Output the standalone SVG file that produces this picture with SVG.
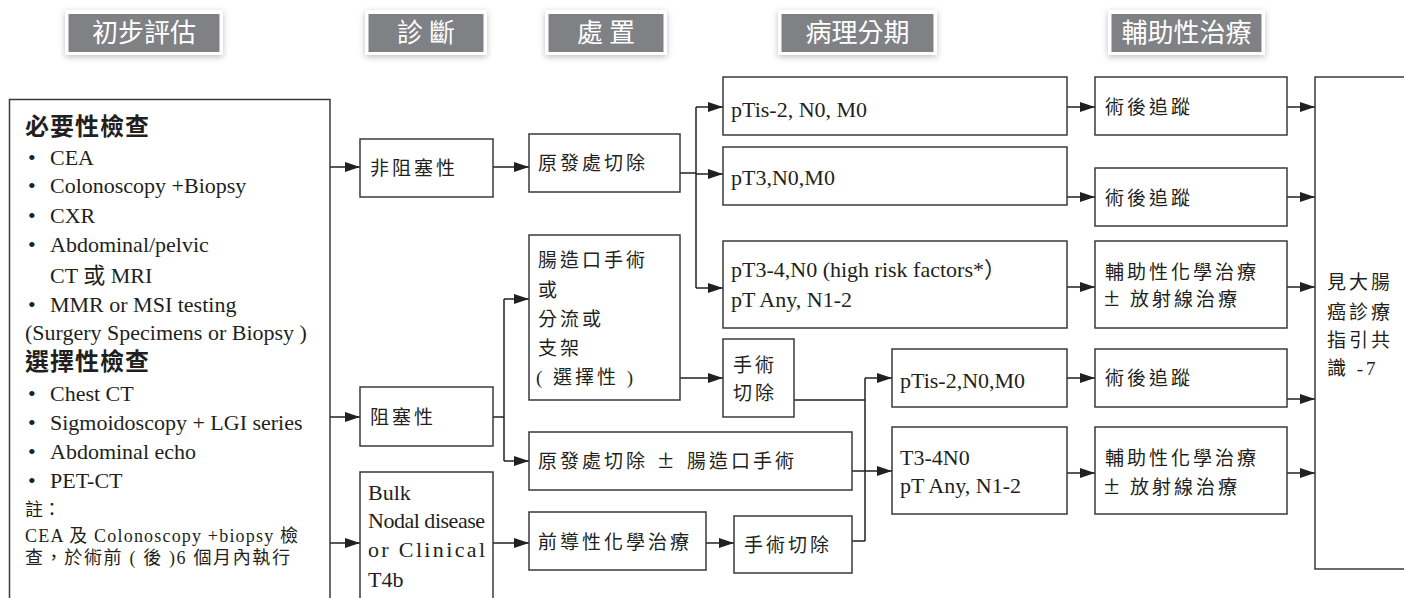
<svg xmlns="http://www.w3.org/2000/svg" width="1404" height="598" viewBox="0 0 1404 598">
<defs>
<filter id="sh" x="-20%" y="-40%" width="140%" height="180%">
<feDropShadow dx="0" dy="2" stdDeviation="3" flood-color="#000" flood-opacity="0.25"/>
</filter>
<marker id="ah" markerUnits="userSpaceOnUse" markerWidth="15" markerHeight="10" refX="15" refY="5" orient="auto">
<path d="M0,0 L15,5 L0,10 z" fill="#231f20"/>
</marker>
</defs>
<style>
.hdo{fill:#fff;filter:url(#sh)}
.hdi{fill:#808184}
.hdt{font-family:"Noto Sans CJK TC","Noto Sans CJK SC",sans-serif;font-size:26px;fill:#fff;text-anchor:middle}
.box{fill:#fff;stroke:#3a3a3a;stroke-width:1.5}
.cj{font-family:"Liberation Serif","Noto Sans CJK TC",serif;font-size:19px;fill:#231f20;letter-spacing:3px}
.pm{font-size:28px;letter-spacing:0}
.en{font-family:"Liberation Serif","Noto Sans CJK TC",serif;font-size:22px;fill:#231f20}
.bt{font-family:"Noto Sans CJK TC","Noto Sans CJK SC",sans-serif;font-size:24px;font-weight:700;fill:#231f20;letter-spacing:1px}
.nt{font-family:"Liberation Serif","Noto Sans CJK TC",serif;font-size:18px;fill:#231f20}
.ln{fill:none;stroke:#231f20;stroke-width:1.5}
.ar{fill:none;stroke:#231f20;stroke-width:1.5;marker-end:url(#ah)}
</style>
<rect width="1404" height="598" fill="#fff"/>

<g id="headers">
<g id="h1"><rect class="hdo" x="65" y="10" width="158" height="45"/><rect class="hdi" x="68.5" y="14" width="151" height="38"/><text class="hdt" x="144" y="42">初步評估</text></g>
<g id="h2"><rect class="hdo" x="365" y="10" width="122" height="45"/><rect class="hdi" x="368.5" y="14" width="115" height="38"/><text class="hdt" x="426" y="42">診 斷</text></g>
<g id="h3"><rect class="hdo" x="545" y="10" width="122" height="45"/><rect class="hdi" x="548.5" y="14" width="115" height="38"/><text class="hdt" x="606" y="42">處 置</text></g>
<g id="h4"><rect class="hdo" x="778" y="10" width="159" height="45"/><rect class="hdi" x="781.5" y="14" width="152" height="38"/><text class="hdt" x="857.5" y="42">病理分期</text></g>
<g id="h5"><rect class="hdo" x="1108" y="10" width="157" height="45"/><rect class="hdi" x="1111.5" y="14" width="150" height="38"/><text class="hdt" x="1186.5" y="42">輔助性治療</text></g>
</g>

<g id="connectors">
<line class="ar" x1="330" y1="167" x2="360" y2="167"/>
<line class="ar" x1="330" y1="417" x2="360" y2="417"/>
<line class="ar" x1="330" y1="543" x2="360" y2="543"/>
<line class="ar" x1="493" y1="167" x2="529" y2="167"/>
<polyline class="ln" points="680,173 696,173"/>
<line class="ln" x1="696" y1="107" x2="696" y2="288"/>
<line class="ar" x1="696" y1="107" x2="723" y2="107"/>
<line class="ar" x1="696" y1="174" x2="723" y2="174"/>
<line class="ar" x1="696" y1="288" x2="723" y2="288"/>
<line class="ar" x1="1067" y1="107" x2="1095" y2="107"/>
<line class="ar" x1="1067" y1="197" x2="1095" y2="197"/>
<line class="ar" x1="1067" y1="287" x2="1095" y2="287"/>
<line class="ar" x1="1287" y1="107" x2="1315" y2="107"/>
<line class="ar" x1="1287" y1="197" x2="1315" y2="197"/>
<line class="ar" x1="1287" y1="287" x2="1315" y2="287"/>
<line class="ar" x1="1287" y1="399" x2="1315" y2="399"/>
<line class="ar" x1="1287" y1="473" x2="1315" y2="473"/>
<polyline class="ln" points="493,417 504,417"/>
<line class="ln" x1="504" y1="299" x2="504" y2="461"/>
<line class="ar" x1="504" y1="299" x2="529" y2="299"/>
<line class="ar" x1="504" y1="461" x2="529" y2="461"/>
<line class="ar" x1="680" y1="378" x2="723" y2="378"/>
<polyline class="ln" points="794,400 865,400"/>
<polyline class="ln" points="852,471 865,471"/>
<polyline class="ln" points="852,541 865,541"/>
<line class="ln" x1="865" y1="378" x2="865" y2="541"/>
<line class="ar" x1="865" y1="378" x2="892" y2="378"/>
<line class="ar" x1="865" y1="471" x2="892" y2="471"/>
<line class="ar" x1="493" y1="543" x2="529" y2="543"/>
<line class="ar" x1="706" y1="543" x2="734" y2="543"/>
<line class="ar" x1="1067" y1="378" x2="1095" y2="378"/>
<line class="ar" x1="1067" y1="473" x2="1095" y2="473"/>
</g>

<g id="initial">
<rect class="box" x="9.5" y="99.5" width="320.5" height="520"/>
<text class="bt" x="25" y="135">必要性檢查</text>
<g class="en">
<text x="28" y="165">•</text><text x="50" y="165">CEA</text>
<text x="28" y="193">•</text><text x="50" y="193">Colonoscopy +Biopsy</text>
<text x="28" y="223">•</text><text x="50" y="223">CXR</text>
<text x="28" y="252">•</text><text x="50" y="252">Abdominal/pelvic</text>
<text x="50" y="283">CT 或 MRI</text>
<text x="28" y="312">•</text><text x="50" y="312">MMR or MSI testing</text>
<text x="25" y="340">(Surgery Specimens or Biopsy )</text>
</g>
<text class="bt" x="25" y="370">選擇性檢查</text>
<g class="en">
<text x="28" y="401">•</text><text x="50" y="401">Chest CT</text>
<text x="28" y="430">•</text><text x="50" y="430">Sigmoidoscopy + LGI series</text>
<text x="28" y="459">•</text><text x="50" y="459">Abdominal echo</text>
<text x="28" y="488">•</text><text x="50" y="488">PET-CT</text>
</g>
<text class="nt" x="25" y="516">註：</text>
<text class="nt" x="25" y="542" textLength="273" lengthAdjust="spacing">CEA 及 Colonoscopy +biopsy 檢</text>
<text class="nt" x="25" y="564" textLength="265" lengthAdjust="spacing">查，於術前 ( 後 )6 個月內執行</text>
</g>

<g id="nonobstructive"><rect class="box" x="360" y="139" width="133" height="58"/><text class="cj" x="370" y="175">非阻塞性</text></g>
<g id="obstructive"><rect class="box" x="360" y="387" width="133" height="59"/><text class="cj" x="370" y="424">阻塞性</text></g>
<g id="bulk"><rect class="box" x="360" y="472" width="133" height="140"/>
<text class="en" x="368" y="500">Bulk</text>
<text class="en" x="368" y="528" textLength="117" lengthAdjust="spacing">Nodal disease</text>
<text class="en" x="368" y="557" textLength="117" lengthAdjust="spacing">or Clinical</text>
<text class="en" x="368" y="587">T4b</text>
</g>

<g id="primary-resection"><rect class="box" x="529" y="134" width="151" height="58"/><text class="cj" x="538" y="170">原發處切除</text></g>
<g id="stoma"><rect class="box" x="529" y="235" width="151" height="165"/>
<text class="cj" x="538" y="267">腸造口手術</text>
<text class="cj" x="538" y="297">或</text>
<text class="cj" x="538" y="326">分流或</text>
<text class="cj" x="538" y="355">支架</text>
<text class="cj" x="536" y="384">( 選擇性 )</text>
</g>
<g id="primary-stoma"><rect class="box" x="529" y="432" width="323" height="58"/><text class="cj" y="468"><tspan x="538">原發處切除 </tspan><tspan class="pm" x="658">± </tspan><tspan x="687">腸造口手術</tspan></text></g>
<g id="neoadjuvant"><rect class="box" x="529" y="512" width="177" height="58"/><text class="cj" x="538" y="549">前導性化學治療</text></g>
<g id="surgery-small"><rect class="box" x="723" y="339" width="71" height="78"/><text class="cj" x="733" y="372">手術</text><text class="cj" x="733" y="400">切除</text></g>
<g id="surgery-lower"><rect class="box" x="734" y="516" width="118" height="57"/><text class="cj" x="744" y="552">手術切除</text></g>

<g id="p1"><rect class="box" x="723" y="77" width="344" height="58"/><text class="en" x="731" y="117">pTis-2, N0, M0</text></g>
<g id="p2"><rect class="box" x="723" y="147" width="344" height="58"/><text class="en" x="731" y="185">pT3,N0,M0</text></g>
<g id="p3"><rect class="box" x="723" y="241" width="344" height="87"/><text class="en" x="731" y="277">pT3-4,N0 (high risk factors*）</text><text class="en" x="731" y="307">pT Any, N1-2</text></g>
<g id="p4"><rect class="box" x="892" y="349" width="175" height="58"/><text class="en" x="900" y="388">pTis-2,N0,M0</text></g>
<g id="p5"><rect class="box" x="892" y="427" width="175" height="87"/><text class="en" x="900" y="465">T3-4N0</text><text class="en" x="900" y="493">pT Any, N1-2</text></g>

<g id="a1"><rect class="box" x="1095" y="77" width="192" height="58"/><text class="cj" x="1105" y="114">術後追蹤</text></g>
<g id="a2"><rect class="box" x="1095" y="168" width="192" height="58"/><text class="cj" x="1105" y="205">術後追蹤</text></g>
<g id="a3"><rect class="box" x="1095" y="241" width="192" height="87"/><text class="cj" x="1105" y="279">輔助性化學治療</text><text class="cj" y="306"><tspan class="pm" x="1104">± </tspan><tspan x="1130">放射線治療</tspan></text></g>
<g id="a4"><rect class="box" x="1095" y="349" width="192" height="58"/><text class="cj" x="1105" y="385">術後追蹤</text></g>
<g id="a5"><rect class="box" x="1095" y="427" width="192" height="87"/><text class="cj" x="1105" y="465">輔助性化學治療</text><text class="cj" y="494"><tspan class="pm" x="1104">± </tspan><tspan x="1130">放射線治療</tspan></text></g>

<g id="guideline"><rect class="box" x="1315" y="77" width="100" height="492"/>
<text class="cj" x="1327" y="289">見大腸</text>
<text class="cj" x="1327" y="319">癌診療</text>
<text class="cj" x="1327" y="347">指引共</text>
<text class="cj" x="1327" y="375">識 -7</text>
</g>
</svg>
